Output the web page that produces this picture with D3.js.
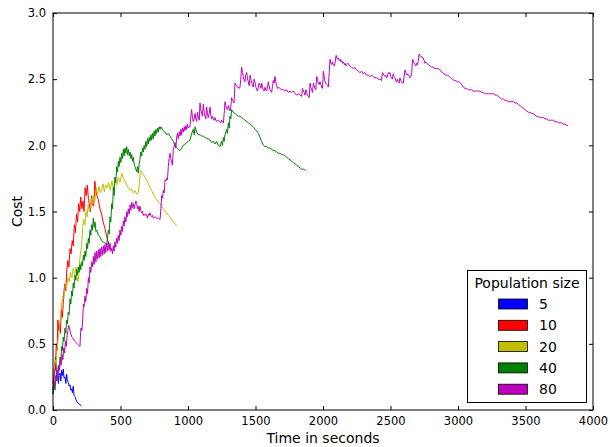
<!DOCTYPE html>
<html><head><meta charset="utf-8">
<script src="https://cdn.jsdelivr.net/npm/d3@7"></script>
<style>body{margin:0;background:#fff}svg{display:block}text{font-family:"DejaVu Sans",sans-serif}</style>
</head><body><svg id="c" width="610" height="447"></svg>
<script>
const xTicks=[0,500,1000,1500,2000,2500,3000,3500,4000];
const yTicks=[0,0.5,1.0,1.5,2.0,2.5,3.0];
const legendLabels=["5","10","20","40","80"];
const pop5=[[0,0.12],[5,0.22],[10,0.28],[15,0.35],[20,0.40],[25,0.27],[30,0.24],[35,0.30],[40,0.20],[45,0.26],[52,0.28],[58,0.22],[64,0.30],[70,0.26],[76,0.31],[82,0.24],[89,0.25],[95,0.20],[101,0.27],[107,0.22],[113,0.21],[120,0.18],[126,0.19],[132,0.15],[138,0.16],[144,0.13],[150,0.18],[156,0.11],[163,0.10],[170,0.08],[178,0.06],[188,0.05],[200,0.04],[212,0.03]];
const pop10=[[0,0.20],[6,0.28],[12,0.35],[18,0.30],[24,0.50],[30,0.45],[36,0.68],[42,0.60],[48,0.66],[55,0.58],[62,0.76],[70,0.70],[78,0.85],[86,0.95],[94,0.90],[102,1.05],[110,1.13],[118,1.08],[126,1.22],[134,1.18],[142,1.28],[150,1.24],[158,1.40],[166,1.34],[174,1.48],[182,1.42],[190,1.56],[198,1.50],[206,1.61],[214,1.52],[222,1.58],[230,1.50],[238,1.68],[246,1.62],[254,1.70],[262,1.60],[270,1.55],[278,1.50],[286,1.62],[294,1.55],[302,1.54],[310,1.73],[318,1.65],[326,1.62],[336,1.59],[348,1.52],[360,1.48],[372,1.42],[385,1.37],[398,1.31],[410,1.26],[422,1.23],[435,1.21]];
const pop20=[[0,0.25],[8,0.30],[16,0.38],[24,0.35],[32,0.48],[40,0.55],[48,0.62],[56,0.72],[64,0.80],[72,0.86],[80,0.84],[90,0.94],[100,0.92],[110,1.00],[120,0.97],[130,1.04],[140,1.00],[150,1.07],[160,1.03],[170,1.08],[180,0.99],[187,0.97],[195,1.10],[203,1.18],[212,1.24],[220,1.38],[228,1.44],[236,1.40],[244,1.50],[252,1.46],[260,1.55],[268,1.50],[276,1.52],[284,1.60],[292,1.56],[300,1.62],[310,1.58],[320,1.68],[330,1.63],[340,1.69],[350,1.64],[360,1.66],[370,1.71],[380,1.65],[390,1.70],[400,1.68],[412,1.72],[424,1.66],[436,1.73],[448,1.67],[460,1.74],[472,1.70],[484,1.76],[496,1.72],[509,1.79],[521,1.75],[533,1.73],[545,1.70],[558,1.68],[570,1.66],[583,1.67],[595,1.64],[607,1.66],[620,1.63],[632,1.64],[640,1.72],[648,1.81],[657,1.80],[669,1.78],[681,1.76],[694,1.74],[706,1.71],[718,1.68],[731,1.66],[743,1.63],[755,1.61],[768,1.59],[780,1.57],[793,1.56],[805,1.54],[817,1.52],[830,1.50],[842,1.49],[854,1.47],[867,1.46],[879,1.44],[891,1.42],[904,1.41],[916,1.39]];
const pop40=[[0,0.12],[8,0.18],[15,0.15],[22,0.25],[30,0.22],[39,0.33],[46,0.30],[52,0.40],[58,0.37],[64,0.48],[70,0.45],[76,0.55],[82,0.52],[89,0.62],[95,0.58],[101,0.68],[107,0.65],[113,0.74],[119,0.72],[126,0.84],[132,0.80],[138,0.90],[144,0.86],[150,0.96],[156,0.92],[163,1.02],[169,0.98],[175,1.06],[181,1.02],[187,1.08],[193,1.04],[200,1.10],[206,1.06],[212,1.12],[218,1.09],[225,1.17],[231,1.13],[237,1.20],[243,1.16],[250,1.26],[256,1.22],[262,1.30],[268,1.26],[274,1.36],[280,1.32],[286,1.40],[292,1.36],[299,1.45],[305,1.38],[311,1.42],[318,1.35],[324,1.36],[336,1.32],[348,1.31],[360,1.28],[373,1.27],[385,1.26],[398,1.25],[404,1.30],[410,1.36],[416,1.33],[422,1.46],[428,1.42],[435,1.56],[441,1.52],[447,1.68],[453,1.62],[459,1.76],[465,1.72],[472,1.84],[478,1.80],[484,1.88],[490,1.84],[496,1.91],[503,1.87],[509,1.94],[515,1.90],[521,1.97],[527,1.92],[533,1.98],[540,1.94],[546,1.99],[552,1.93],[558,1.97],[565,1.92],[571,1.95],[577,1.90],[583,1.93],[589,1.88],[595,1.91],[601,1.86],[607,1.84],[614,1.82],[620,1.80],[626,1.84],[632,1.79],[638,1.86],[644,1.89],[650,1.95],[657,1.92],[663,1.98],[669,1.95],[675,2.00],[681,1.97],[688,2.03],[694,1.99],[700,2.05],[706,2.01],[712,2.06],[718,2.03],[725,2.08],[731,2.04],[737,2.09],[743,2.05],[749,2.11],[755,2.07],[762,2.12],[768,2.09],[774,2.13],[780,2.10],[786,2.14],[793,2.12],[799,2.14],[805,2.13],[817,2.11],[830,2.10],[842,2.08],[854,2.09],[867,2.07],[879,2.05],[891,2.03],[904,2.00],[916,1.98],[928,1.97],[941,1.96],[953,1.98],[965,2.00],[978,2.01],[990,2.02],[1002,2.03],[1015,2.04],[1027,2.09],[1039,2.12],[1046,2.08],[1052,2.14],[1064,2.10],[1076,2.08],[1089,2.08],[1101,2.07],[1113,2.07],[1126,2.06],[1138,2.05],[1150,2.05],[1163,2.04],[1175,2.02],[1187,2.03],[1200,2.01],[1212,2.03],[1224,2.00],[1237,1.99],[1249,2.03],[1255,2.00],[1262,2.06],[1268,2.03],[1274,2.08],[1286,2.12],[1292,2.09],[1299,2.17],[1305,2.13],[1311,2.22],[1317,2.20],[1323,2.27],[1335,2.25],[1348,2.24],[1360,2.23],[1373,2.22],[1385,2.22],[1398,2.21],[1410,2.20],[1422,2.19],[1435,2.18],[1447,2.17],[1460,2.16],[1472,2.15],[1484,2.14],[1497,2.12],[1509,2.11],[1521,2.09],[1534,2.06],[1546,2.03],[1558,2.00],[1571,1.99],[1583,1.99],[1595,1.98],[1607,1.98],[1620,1.97],[1632,1.96],[1644,1.96],[1657,1.95],[1669,1.94],[1681,1.94],[1694,1.93],[1706,1.93],[1718,1.92],[1731,1.91],[1743,1.90],[1756,1.89],[1768,1.88],[1780,1.87],[1793,1.86],[1805,1.85],[1817,1.84],[1830,1.83],[1842,1.82],[1855,1.82],[1872,1.81]];
const pop80=[[0,0.15],[6,0.22],[12,0.18],[18,0.26],[24,0.22],[30,0.30],[36,0.26],[42,0.34],[48,0.30],[55,0.38],[61,0.34],[67,0.42],[73,0.38],[80,0.47],[86,0.43],[92,0.52],[98,0.48],[104,0.56],[110,0.60],[116,0.64],[122,0.62],[130,0.58],[140,0.55],[150,0.54],[160,0.52],[170,0.51],[180,0.50],[190,0.49],[200,0.48],[204,0.58],[208,0.62],[214,0.60],[220,0.68],[225,0.80],[230,0.78],[237,0.86],[243,0.82],[250,0.92],[256,0.88],[262,1.00],[268,0.96],[274,1.08],[280,1.04],[287,1.12],[293,1.08],[299,1.16],[305,1.10],[311,1.19],[318,1.12],[324,1.20],[330,1.14],[336,1.21],[342,1.15],[348,1.22],[354,1.16],[360,1.23],[367,1.17],[373,1.24],[379,1.18],[385,1.25],[391,1.19],[398,1.26],[404,1.20],[410,1.27],[416,1.21],[422,1.26],[428,1.20],[435,1.22],[441,1.18],[447,1.24],[453,1.20],[459,1.27],[465,1.23],[472,1.30],[478,1.26],[484,1.32],[490,1.28],[496,1.36],[503,1.32],[509,1.39],[515,1.35],[521,1.43],[527,1.39],[533,1.46],[540,1.42],[546,1.50],[552,1.46],[558,1.52],[565,1.48],[571,1.55],[577,1.51],[583,1.57],[589,1.53],[595,1.56],[601,1.52],[607,1.55],[614,1.58],[620,1.56],[626,1.52],[632,1.54],[638,1.50],[644,1.54],[650,1.51],[657,1.49],[663,1.50],[669,1.47],[675,1.48],[681,1.47],[688,1.48],[694,1.47],[700,1.45],[706,1.48],[712,1.47],[718,1.49],[725,1.47],[731,1.46],[737,1.47],[743,1.45],[755,1.46],[768,1.45],[780,1.45],[793,1.44],[799,1.52],[805,1.62],[811,1.60],[817,1.66],[824,1.64],[830,1.74],[836,1.73],[842,1.75],[848,1.74],[854,1.84],[860,1.90],[867,1.94],[873,1.90],[879,1.87],[885,1.85],[891,1.97],[898,1.99],[904,2.02],[910,1.98],[916,2.06],[922,2.09],[928,2.05],[935,2.10],[941,2.07],[947,2.12],[953,2.08],[959,2.13],[965,2.10],[972,2.14],[978,2.11],[984,2.15],[990,2.12],[996,2.16],[1002,2.13],[1009,2.14],[1015,2.14],[1021,2.22],[1027,2.27],[1033,2.21],[1039,2.18],[1046,2.20],[1052,2.24],[1058,2.20],[1064,2.18],[1070,2.25],[1076,2.22],[1083,2.19],[1089,2.32],[1095,2.27],[1101,2.24],[1107,2.22],[1113,2.31],[1120,2.25],[1126,2.22],[1132,2.20],[1138,2.29],[1144,2.24],[1150,2.21],[1157,2.24],[1163,2.29],[1169,2.23],[1175,2.20],[1181,2.22],[1187,2.20],[1194,2.19],[1200,2.21],[1206,2.19],[1212,2.18],[1224,2.19],[1237,2.18],[1243,2.17],[1249,2.19],[1255,2.18],[1262,2.17],[1268,2.24],[1274,2.33],[1280,2.30],[1286,2.28],[1292,2.27],[1299,2.30],[1305,2.28],[1311,2.26],[1317,2.29],[1323,2.36],[1329,2.34],[1335,2.33],[1341,2.32],[1348,2.47],[1354,2.46],[1360,2.45],[1366,2.44],[1373,2.44],[1379,2.43],[1385,2.44],[1391,2.50],[1397,2.59],[1404,2.55],[1410,2.52],[1416,2.49],[1422,2.48],[1428,2.53],[1435,2.55],[1441,2.50],[1447,2.48],[1453,2.45],[1460,2.53],[1466,2.50],[1472,2.47],[1478,2.45],[1484,2.44],[1490,2.50],[1497,2.47],[1503,2.44],[1509,2.42],[1515,2.41],[1521,2.44],[1527,2.47],[1534,2.45],[1540,2.43],[1546,2.47],[1552,2.44],[1558,2.42],[1564,2.41],[1571,2.44],[1577,2.42],[1583,2.41],[1589,2.44],[1595,2.48],[1601,2.45],[1607,2.42],[1614,2.41],[1620,2.40],[1626,2.45],[1632,2.49],[1638,2.47],[1644,2.52],[1650,2.48],[1657,2.45],[1663,2.43],[1669,2.44],[1681,2.43],[1694,2.42],[1706,2.42],[1718,2.41],[1731,2.42],[1743,2.40],[1756,2.41],[1768,2.40],[1780,2.41],[1793,2.39],[1805,2.38],[1817,2.39],[1830,2.38],[1842,2.37],[1848,2.43],[1854,2.41],[1860,2.40],[1867,2.38],[1873,2.42],[1879,2.40],[1885,2.38],[1891,2.37],[1898,2.36],[1904,2.47],[1910,2.44],[1916,2.42],[1922,2.40],[1929,2.47],[1935,2.45],[1941,2.43],[1947,2.42],[1953,2.52],[1959,2.50],[1965,2.47],[1972,2.46],[1978,2.48],[1984,2.46],[1990,2.44],[1996,2.43],[2003,2.56],[2009,2.52],[2015,2.48],[2021,2.47],[2027,2.46],[2033,2.45],[2040,2.44],[2046,2.55],[2052,2.65],[2058,2.62],[2064,2.61],[2070,2.63],[2077,2.61],[2083,2.60],[2089,2.62],[2097,2.68],[2103,2.66],[2109,2.65],[2115,2.66],[2121,2.64],[2128,2.65],[2134,2.63],[2140,2.64],[2146,2.62],[2152,2.63],[2158,2.61],[2164,2.62],[2170,2.60],[2176,2.61],[2186,2.62],[2198,2.60],[2211,2.59],[2223,2.58],[2235,2.59],[2248,2.57],[2262,2.56],[2274,2.55],[2287,2.56],[2299,2.54],[2311,2.55],[2324,2.53],[2336,2.53],[2348,2.52],[2360,2.53],[2372,2.52],[2385,2.51],[2397,2.51],[2409,2.50],[2422,2.50],[2434,2.49],[2440,2.55],[2446,2.54],[2452,2.53],[2458,2.52],[2465,2.53],[2471,2.51],[2477,2.52],[2483,2.55],[2490,2.54],[2496,2.55],[2502,2.52],[2508,2.51],[2514,2.50],[2520,2.54],[2527,2.52],[2533,2.51],[2539,2.49],[2545,2.48],[2551,2.50],[2557,2.48],[2564,2.47],[2570,2.51],[2576,2.49],[2582,2.48],[2588,2.47],[2595,2.47],[2601,2.52],[2607,2.57],[2613,2.55],[2620,2.53],[2626,2.54],[2632,2.53],[2638,2.52],[2645,2.51],[2651,2.52],[2657,2.55],[2664,2.65],[2670,2.63],[2676,2.62],[2682,2.61],[2688,2.60],[2694,2.62],[2700,2.61],[2706,2.64],[2712,2.69],[2718,2.68],[2724,2.67],[2730,2.67],[2737,2.66],[2743,2.66],[2749,2.64],[2755,2.62],[2762,2.63],[2768,2.62],[2780,2.61],[2793,2.60],[2805,2.59],[2816,2.59],[2830,2.58],[2842,2.58],[2854,2.58],[2866,2.57],[2872,2.56],[2885,2.55],[2897,2.54],[2910,2.53],[2922,2.53],[2934,2.52],[2946,2.51],[2959,2.50],[2971,2.49],[2983,2.49],[2996,2.48],[3008,2.48],[3021,2.47],[3033,2.45],[3040,2.44],[3052,2.43],[3064,2.43],[3077,2.42],[3089,2.42],[3101,2.42],[3114,2.41],[3126,2.41],[3138,2.41],[3151,2.41],[3163,2.41],[3175,2.40],[3188,2.40],[3200,2.39],[3212,2.39],[3225,2.39],[3237,2.39],[3249,2.39],[3262,2.39],[3274,2.38],[3286,2.38],[3299,2.37],[3311,2.36],[3323,2.35],[3336,2.35],[3348,2.34],[3360,2.34],[3373,2.33],[3385,2.33],[3398,2.33],[3410,2.33],[3422,2.32],[3434,2.32],[3447,2.31],[3459,2.30],[3471,2.29],[3484,2.28],[3496,2.27],[3508,2.26],[3521,2.25],[3533,2.25],[3545,2.24],[3558,2.24],[3570,2.23],[3582,2.22],[3595,2.22],[3607,2.21],[3620,2.21],[3632,2.21],[3644,2.20],[3657,2.20],[3669,2.19],[3681,2.19],[3694,2.19],[3706,2.19],[3718,2.18],[3731,2.18],[3743,2.17],[3756,2.17],[3768,2.17],[3780,2.16],[3793,2.16],[3805,2.15],[3815,2.15]];
const seriesData=[pop5,pop10,pop20,pop40,pop80];
const colors=["#0000ff","#ff0000","#bfbf00","#008000","#bf00bf"];

const svg=d3.select("#c");
const L=53,R=593,T=13,B=410;
const x=d3.scaleLinear().domain([0,4000]).range([L,R]);
const y=d3.scaleLinear().domain([0,3]).range([B,T]);

const line=d3.line().x(d=>x(d[0])).y(d=>y(d[1]));
const g=svg.append("g");
seriesData.forEach((s,i)=>{
  g.append("path").attr("d",line(s)).attr("fill","none").attr("stroke",colors[i]).attr("stroke-width",1).attr("stroke-linejoin","round");
});

// axes (ticks inward)
const fmtY=d3.format(".1f");
const axB=d3.axisBottom(x).tickValues(xTicks).tickSize(-4).tickPadding(7).tickFormat(d3.format("d"));
const axT=d3.axisTop(x).tickValues(xTicks).tickSize(-4).tickFormat("");
const axLft=d3.axisLeft(y).tickValues(yTicks).tickSize(-4).tickPadding(7).tickFormat(fmtY);
const axRt=d3.axisRight(y).tickValues(yTicks).tickSize(-4).tickFormat("");
function style(sel){sel.select(".domain").remove();sel.selectAll("line").attr("stroke","#000").attr("stroke-width",1);sel.selectAll("text").attr("font-family","DejaVu Sans").attr("font-size","11.5px").attr("fill","#000");}
svg.append("g").attr("transform",`translate(0,${B})`).call(axB).call(style);
svg.append("g").attr("transform",`translate(0,${T})`).call(axT).call(style);
svg.append("g").attr("transform",`translate(${L},0)`).call(axLft).call(style);
svg.append("g").attr("transform",`translate(${R},0)`).call(axRt).call(style);
svg.append("rect").attr("x",L).attr("y",T).attr("width",R-L).attr("height",B-T).attr("fill","none").attr("stroke","#000").attr("stroke-width",1);

svg.append("text").attr("x",(L+R)/2).attr("y",443).attr("text-anchor","middle").attr("font-size","14px").text("Time in seconds");
svg.append("text").attr("transform",`translate(22,${(T+B)/2}) rotate(-90)`).attr("text-anchor","middle").attr("font-size","14px").text("Cost");

// legend
const lg=svg.append("g");
lg.append("rect").attr("x",467.5).attr("y",270.5).attr("width",119).attr("height",132).attr("fill","#fff").attr("stroke","#000").attr("stroke-width",1);
lg.append("text").attr("x",527).attr("y",288).attr("text-anchor","middle").attr("font-size","14px").text("Population size");
legendLabels.forEach((lab,i)=>{
  const cy=304+i*21.3;
  lg.append("rect").attr("x",498.5).attr("y",cy-5).attr("width",29).attr("height",10).attr("fill",colors[i]).attr("stroke","#000").attr("stroke-width",0.8);
  lg.append("text").attr("x",539).attr("y",cy+5).attr("font-size","14px").text(lab);
});
</script></body></html>
